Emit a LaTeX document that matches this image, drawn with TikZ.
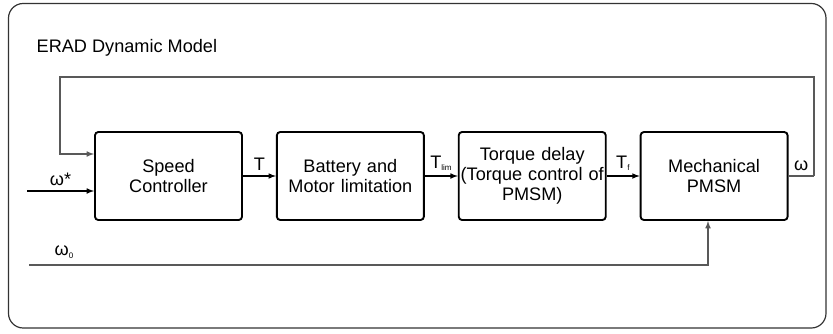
\documentclass[tikz,border=0pt]{standalone}
\usepackage{fontspec}
\setmainfont{Liberation Sans}
\usetikzlibrary{positioning}

\newcommand{\sublabel}[1]{\textsubscript{\fontsize{6}{6}\selectfont #1}}

\begin{document}
\begin{tikzpicture}[
    x=0.75pt, y=-0.75pt,
    node distance=24.75pt,
    font=\fontsize{13.6}{15}\selectfont,
    block/.style={rectangle, rounded corners=2.5pt, draw, line width=1.4pt, text width=108pt, align=center, minimum width=110.25pt, minimum height=66pt, inner sep=0pt},
    arrow/.style={-latex, line width=0.9pt},
    grayline/.style={draw=black!65, line width=1.3pt}
]
\useasboundingbox (0,0) rectangle (833,333);

% frame and title
\draw[black!80, line width=0.9pt, rounded corners=11pt] (8.5,3.5) rectangle (826,328);
\node[anchor=west] (title) at (32,48) {ERAD Dynamic Model};

% blocks
\node[block] (speed) at (168.5,176) {Speed\\Controller};
\node[block, right=of speed] (limit) {Battery and\\Motor limitation};
\node[block, right=of limit] (delay) {Torque delay\\(Torque control of\\PMSM)};
\node[block, right=of delay] (mech) {Mechanical\\PMSM};

% free ends
\coordinate (wstar) at (27,191);
\coordinate (wzero) at (29,265);
\coordinate (wout) at (814,176);

\draw[arrow] (speed) -- node[above] {T} (limit);
\draw[arrow] (limit) -- node[above] {T\sublabel{lim}} (delay);
\draw[arrow] (delay) -- node[above] {T\sublabel{f}} (mech);
\draw[arrow] (wstar) -- node[above, pos=0.5] {ω*} (wstar -| speed.west);
\draw[grayline] (mech) -- node[above, pos=0.5, black] {ω} (wout);
\draw[grayline, arrow] (wout) |- (60,77) |- ([yshift=16.5pt]speed.west);
\draw[grayline, arrow] (wzero) -| (mech.south -| 708,0);
\node[anchor=west] (w0) at (50,252) {ω\sublabel{0}};

\end{tikzpicture}
\end{document}
